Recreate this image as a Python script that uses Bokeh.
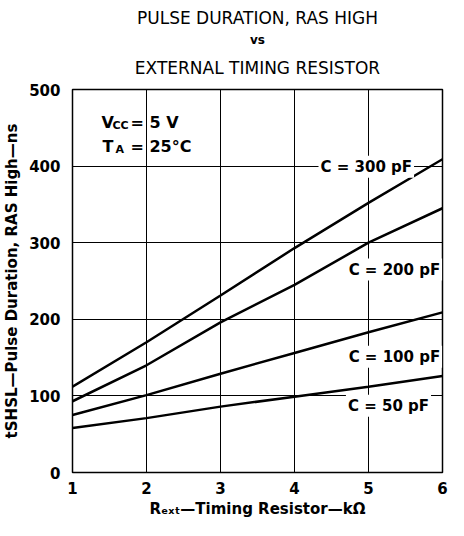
from bokeh.plotting import figure
from bokeh.models import Label, FixedTicker, Range1d, Title
from bokeh.embed import file_html
from bokeh.resources import INLINE

# ---- data ----
r_ext = [1, 2, 3, 4, 5, 6]            # kOhm
c50 = [58, 71, 86, 99, 112, 126]      # ns
c100 = [75, 101, 129, 156, 183, 209]
c200 = [93, 140, 196, 245, 300, 345]
c300 = [112, 170, 231, 293, 352, 409]

x_ticks = [1, 2, 3, 4, 5, 6]
y_ticks = [0, 100, 200, 300, 400, 500]

curve_labels = ["C = 300 pF", "C = 200 pF", "C = 100 pF", "C = 50 pF"]
label_x = [4.97, 5.35, 5.35, 5.27]
label_y = [399, 265, 151, 87]

title_lines = ["PULSE DURATION, RAS HIGH", "vs", "EXTERNAL TIMING RESISTOR"]
x_label = "R\u2091\u2093\u209c\u2014Timing Resistor\u2014k\u03a9"
y_label = "tSHSL\u2014Pulse Duration, RAS High\u2014ns"

FONT = "DejaVu Sans"

p = figure(width=448, height=520, output_backend="svg", toolbar_location=None,
           x_range=Range1d(1, 6), y_range=Range1d(0, 500), title_location=None,
           min_border_left=65, min_border_right=6, min_border_top=0,
           min_border_bottom=0)

p.outline_line_color = "black"
p.outline_line_width = 1.5
p.background_fill_color = "white"
p.border_fill_color = "white"

for ax in (p.xaxis[0], p.yaxis[0]):
    ax.axis_line_color = None
    ax.major_tick_line_color = None
    ax.minor_tick_line_color = None
    ax.major_label_text_font = FONT
    ax.major_label_text_font_style = "bold"
    ax.major_label_text_font_size = "15px"
    ax.major_label_text_color = "black"
    ax.axis_label_text_font = FONT
    ax.axis_label_text_font_style = "bold"
    ax.axis_label_text_font_size = "15px"
    ax.axis_label_text_color = "black"

p.xaxis.ticker = FixedTicker(ticks=x_ticks)
p.yaxis.ticker = FixedTicker(ticks=y_ticks)
p.xaxis.major_label_standoff = 3
p.yaxis.major_label_standoff = 6
p.xaxis.axis_label = x_label
p.yaxis.axis_label = y_label
p.xaxis.axis_label_standoff = 3
p.yaxis.axis_label_standoff = 5

p.xgrid.ticker = FixedTicker(ticks=x_ticks)
p.ygrid.ticker = FixedTicker(ticks=y_ticks)
for g in (p.xgrid[0], p.ygrid[0]):
    g.grid_line_color = "black"
    g.grid_line_width = 1
    g.grid_line_alpha = 1.0

# curves
for ys in (c50, c100, c200, c300):
    p.line(r_ext, ys, line_color="black", line_width=2.5)

# curve labels
for t, lx, ly in zip(curve_labels, label_x, label_y):
    p.add_layout(Label(x=lx, y=ly, text=t, text_align="center", text_baseline="middle",
                       text_font=FONT, text_font_style="bold", text_font_size="15px",
                       text_color="black", background_fill_color="white", padding=2))

def lab(text, xo, yo, size, x=1, y=500):
    p.add_layout(Label(x=x, y=y, x_offset=xo, y_offset=yo, text=text,
                       text_align="left", text_baseline="alphabetic",
                       text_font=FONT, text_font_style="bold",
                       text_font_size=size, text_color="black"))

# conditions text (offsets relative to top-left corner of frame)
lab("V", 29, -33, "16px")
lab("CC", 40, -36, "11px")
lab("= 5 V", 58, -33, "16px")
lab("T", 30, -57, "16px")
lab("A", 43, -60, "11px")
lab("= 25°C", 58, -57, "16px")

# title (three lines), first added is nearest to the frame
for txt, size, style, so in ((title_lines[2], "17px", "normal", 23),
                             (title_lines[1], "12px", "bold", -4),
                             (title_lines[0], "17px", "normal", 10)):
    p.add_layout(Title(text=txt, align="center", offset=6, standoff=so,
                       text_font=FONT, text_font_style=style, text_font_size=size,
                       text_color="black"), "above")

open("out.html", "w").write(file_html(p, INLINE))
